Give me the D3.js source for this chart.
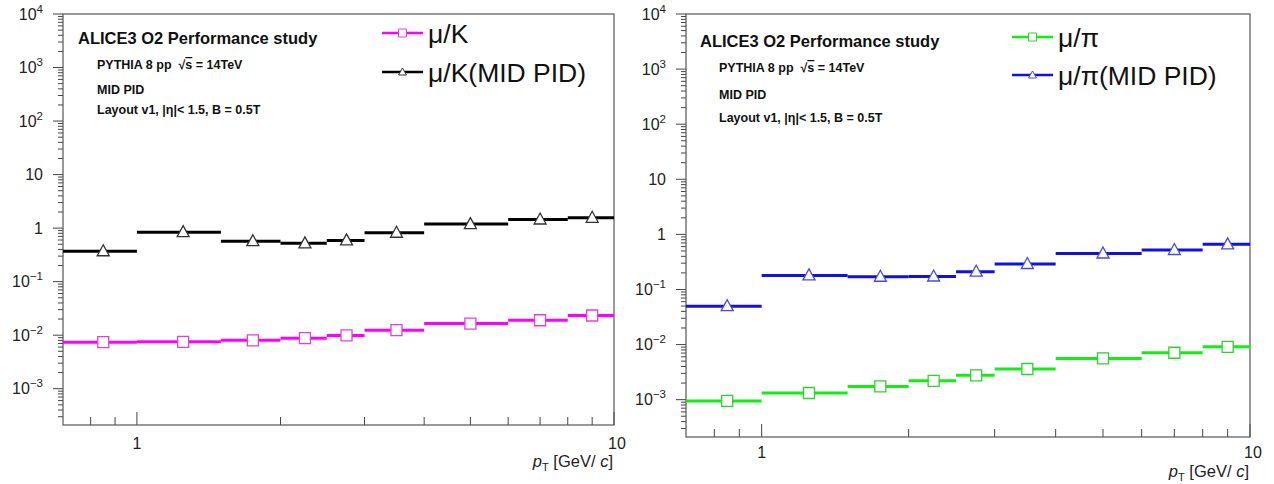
<!DOCTYPE html>
<html><head><meta charset="utf-8">
<script src="https://cdn.jsdelivr.net/npm/d3@7"></script>
<style>body{margin:0;background:#fff;} text{font-family:"Liberation Sans",Arial,sans-serif;}</style>
</head><body><svg id="c" width="1274" height="484"></svg>
<script>
const xEdges = [0.7, 1, 1.5, 2, 2.5, 3, 4, 6, 8, 10];
const muK = [0.0074, 0.0075, 0.0080, 0.0088, 0.0099, 0.0124, 0.0165, 0.019, 0.0233];
const muKMid = [0.37, 0.84, 0.57, 0.52, 0.59, 0.82, 1.19, 1.45, 1.56];
const muPi = [0.00095, 0.00132, 0.00174, 0.0022, 0.00276, 0.0036, 0.0056, 0.0071, 0.0091];
const muPiMid = [0.0497, 0.18, 0.17, 0.172, 0.21, 0.29, 0.45, 0.52, 0.66];
const yTicks = [1e-3, 1e-2, 1e-1, 1, 10, 100, 1e3, 1e4];
const yTickLabels = [["10","−3"],["10","−2"],["10","−1"],["1",""],["10",""],["10","2"],["10","3"],["10","4"]];
const xMajor = [1, 10];
const xMajorLabels = ["1", "10"];
const xMinor = [0.8, 0.9, 2, 3, 4, 5, 6, 7, 8, 9];
const infoLines = ["PYTHIA 8 pp", "MID PID", "Layout v1, |η|< 1.5, B = 0.5T"];
const titleText = "ALICE3 O2 Performance study";

const svg = d3.select("#c");

function drawPanel(p) {
  const x = d3.scaleLog().domain([0.7, 10]).range([p.x0, p.x1]);
  const y = d3.scaleLog().domain([2.1e-4, 1e4]).range([p.y1, p.y0]);
  const g = svg.append("g");

  const yMinor = [];
  for (let e = -4; e < 4; e++) for (let k = 2; k <= 9; k++) { const v = k * Math.pow(10, e); if (v >= 2.1e-4 && v <= 1e4) yMinor.push(v); }
  g.selectAll(".ymin").data(yMinor).join("line")
    .attr("x1", p.x0 - 5).attr("x2", p.x0).attr("y1", d => y(d)).attr("y2", d => y(d))
    .attr("stroke", "#444").attr("stroke-width", 1);
  g.selectAll(".ymaj").data(yTicks).join("line")
    .attr("x1", p.x0 - 10).attr("x2", p.x0).attr("y1", d => y(d)).attr("y2", d => y(d))
    .attr("stroke", "#444").attr("stroke-width", 1);
  const yl = g.selectAll(".ylab").data(yTicks).join("text")
    .attr("x", p.x0 - 20).attr("y", d => y(d) + 5.5).attr("text-anchor", "end")
    .attr("font-size", 16).attr("fill", "#222");
  yl.append("tspan").text((d, i) => yTickLabels[i][0]);
  yl.append("tspan").attr("font-size", 11.5).attr("dy", -7).text((d, i) => yTickLabels[i][1]);

  g.selectAll(".xmin").data(xMinor).join("line")
    .attr("x1", d => x(d)).attr("x2", d => x(d)).attr("y1", p.y1).attr("y2", p.y1 - 8)
    .attr("stroke", "#444");
  g.selectAll(".xmaj").data(xMajor).join("line")
    .attr("x1", d => x(d)).attr("x2", d => x(d)).attr("y1", p.y1).attr("y2", p.y1 - 13)
    .attr("stroke", "#444");
  g.selectAll(".xlab").data(xMajor).join("text")
    .attr("x", (d, i) => x(d) + (i === 1 ? 3 : 0)).attr("y", p.y1 + p.xlabDy)
    .attr("text-anchor", "middle").attr("font-size", 16).attr("fill", "#222")
    .text((d, i) => xMajorLabels[i]);
  const xt = g.append("text").attr("x", p.x1 - 1).attr("y", p.y1 + p.xtitleDy)
    .attr("text-anchor", "end").attr("font-size", 16.5).attr("fill", "#222");
  xt.append("tspan").attr("font-style", "italic").text("p");
  xt.append("tspan").attr("font-size", 11).attr("dy", 4).text("T");
  xt.append("tspan").attr("dy", -4).text(" [GeV/");
  xt.append("tspan").attr("font-style", "italic").text("\u00a0c");
  xt.append("tspan").text("]");

  g.append("rect").attr("x", p.x0).attr("y", p.y0).attr("width", p.x1 - p.x0).attr("height", p.y1 - p.y0)
    .attr("fill", "none").attr("stroke", "#555").attr("stroke-width", 1.2);

  g.append("text").attr("x", p.tx).attr("y", p.ty[0]).attr("font-size", 16.5).attr("font-weight", "bold")
    .attr("fill", "#111").text(titleText);
  const t1 = g.append("text").attr("x", p.tx + 19).attr("y", p.ty[1]).attr("font-size", 12.5)
    .attr("font-weight", "bold").attr("fill", "#111");
  t1.append("tspan").text(infoLines[0] + "\u00a0\u00a0√");
  t1.append("tspan").attr("text-decoration", "overline").text("s");
  t1.append("tspan").text(" = 14TeV");
  g.append("text").attr("x", p.tx + 19).attr("y", p.ty[2]).attr("font-size", 12.5).attr("font-weight", "bold")
    .attr("fill", "#111").text(infoLines[1]);
  g.append("text").attr("x", p.tx + 19).attr("y", p.ty[3]).attr("font-size", 12.5).attr("font-weight", "bold")
    .attr("fill", "#111").text(infoLines[2]);

  p.series.forEach(s => {
    const bins = s.values.map((v, i) => ({ lo: xEdges[i], hi: xEdges[i + 1], v }));
    g.selectAll(null).data(bins).join("line")
      .attr("x1", d => x(d.lo)).attr("x2", d => x(d.hi))
      .attr("y1", d => y(d.v)).attr("y2", d => y(d.v))
      .attr("stroke", s.color).attr("stroke-width", 3);
    const mk = g.selectAll(null).data(bins).join("path")
      .attr("transform", d => `translate(${x((d.lo + d.hi) / 2)},${y(d.v)})`)
      .attr("fill", "#fff").attr("stroke", s.mcolor).attr("stroke-width", 1.3);
    if (s.marker === "square") mk.attr("d", "M-5.5,-5.5H5.5V5.5H-5.5Z");
    else mk.attr("d", "M0,-6.5L6,4.5H-6Z");
  });

  p.series.forEach((s, i) => {
    const ly = p.ly[i];
    g.append("line").attr("x1", p.lx).attr("x2", p.lx + 41).attr("y1", ly).attr("y2", ly)
      .attr("stroke", s.color).attr("stroke-width", 2.5);
    const m = g.append("path").attr("transform", `translate(${p.lx + 20.5},${ly})`)
      .attr("fill", "#fff").attr("stroke", s.mcolor).attr("stroke-width", 1);
    if (s.marker === "square") m.attr("d", "M-4,-4H4V4H-4Z");
    else m.attr("d", "M0,-4L4,3H-4Z");
    g.append("text").attr("x", p.lx + 46).attr("y", ly + 9.5).attr("font-size", 26.5).attr("fill", "#111").text(s.name);
  });
}

drawPanel({
  x0: 63, x1: 614, y0: 14, y1: 425, xlabDy: 24, xtitleDy: 42,
  tx: 78, ty: [44, 69, 94, 114], lx: 382, ly: [33, 72],
  series: [
    { name: "μ/K", values: muK, color: "#ff00ff", mcolor: "#e040e0", marker: "square" },
    { name: "μ/K(MID PID)", values: muKMid, color: "#000", mcolor: "#333", marker: "tri" }
  ]
});
drawPanel({
  x0: 686, x1: 1250, y0: 14, y1: 437, xlabDy: 21, xtitleDy: 40,
  tx: 700, ty: [47, 72, 99, 122], lx: 1012, ly: [37, 75],
  series: [
    { name: "μ/π", values: muPi, color: "#10f010", mcolor: "#30d030", marker: "square" },
    { name: "μ/π(MID PID)", values: muPiMid, color: "#1010e0", mcolor: "#4848e8", marker: "tri" }
  ]
});
</script></body></html>
